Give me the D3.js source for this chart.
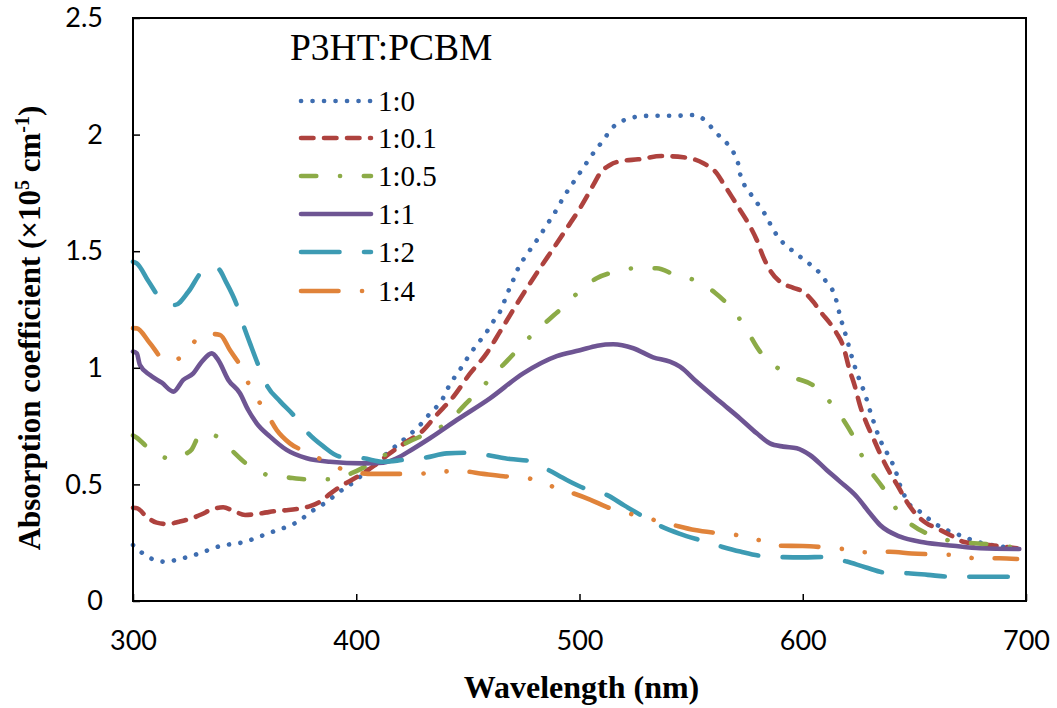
<!DOCTYPE html>
<html>
<head>
<meta charset="utf-8">
<script src="https://cdn.jsdelivr.net/npm/d3@7"></script>
<style>
  body { margin: 0; background: #fff; }
  .tick text { font-family: Lato, "Open Sans", sans-serif; font-size: 27px; fill: #000; }
  .title { font-family: "Liberation Serif", "Times New Roman", serif; font-weight: bold; }
  .legend text { font-family: "Liberation Serif", "Times New Roman", serif; fill: #000; }
</style>
</head>
<body>
<svg width="1057" height="708"></svg>
<script>
// wavelength (nm) / absorption coefficient (x10^5 cm^-1)
var wl_10 = [300, 305, 310, 315, 320, 325, 330, 335, 340, 345, 350, 355, 360, 365, 370, 375, 379, 384, 388, 392, 397, 401, 405, 410, 414, 417, 421, 425, 429, 432, 436, 439, 441, 444, 447, 450, 453, 456, 459, 462, 465, 467, 469, 471, 473, 476, 479, 482, 485, 488, 490.5, 493, 496, 499, 502, 505, 508.4, 511, 514, 518.5, 523.4, 529, 534, 539, 544, 550, 554.7, 558.5, 562, 566, 569, 571, 572, 574, 577, 580, 583, 585.6, 588.3, 591.7, 596, 600, 604, 608, 611, 614, 615.5, 616.7, 618.2, 619.7, 622.5, 626, 628, 629.4, 631, 632.7, 634.5, 637, 639.4, 641.6, 643, 645, 647, 651.6, 655.5, 659.7, 664.5, 669.4, 674.3, 679, 688, 696];
var abs_10 = [0.24, 0.20, 0.175, 0.168, 0.178, 0.19, 0.205, 0.223, 0.238, 0.245, 0.253, 0.27, 0.288, 0.305, 0.322, 0.347, 0.378, 0.408, 0.434, 0.465, 0.497, 0.527, 0.56, 0.6, 0.635, 0.659, 0.69, 0.722, 0.759, 0.793, 0.833, 0.872, 0.912, 0.959, 1.0, 1.045, 1.086, 1.123, 1.162, 1.208, 1.252, 1.302, 1.348, 1.391, 1.437, 1.479, 1.522, 1.562, 1.608, 1.651, 1.691, 1.734, 1.777, 1.82, 1.862, 1.905, 1.948, 1.98, 2.022, 2.055, 2.072, 2.08, 2.081, 2.081, 2.081, 2.084, 2.072, 2.037, 2.0, 1.963, 1.923, 1.878, 1.829, 1.781, 1.741, 1.701, 1.66, 1.614, 1.57, 1.531, 1.498, 1.467, 1.438, 1.402, 1.362, 1.319, 1.272, 1.222, 1.174, 1.126, 1.03, 0.933, 0.885, 0.838, 0.791, 0.741, 0.694, 0.648, 0.605, 0.559, 0.512, 0.465, 0.423, 0.39, 0.359, 0.329, 0.304, 0.286, 0.267, 0.252, 0.235, 0.225];

var wl_101 = [300, 302, 306, 310.6, 315.5, 320.7, 325.5, 330.8, 335.3, 340.4, 344.9, 350.2, 354.6, 359.9, 364.4, 369.6, 374.8, 379.3, 383.8, 388.2, 392.7, 397.2, 401.7, 408, 415, 422.6, 429.3, 436, 443.5, 451, 458.4, 464.4, 470.3, 476.4, 482.3, 488.3, 494.3, 500.2, 506.2, 509.2, 513.7, 518.9, 526.3, 536.8, 546.5, 555.5, 561.5, 564.4, 568.2, 571.9, 575.6, 579.4, 582.3, 585.3, 589.8, 595.8, 600.3, 604.7, 608.5, 612.2, 615.2, 618.2, 620.7, 623.4, 625.6, 628.6, 631.6, 634.6, 638.3, 642.8, 646.6, 651, 655.5, 660, 666, 671.9, 679.4, 688, 696];
var abs_101 = [0.40, 0.397, 0.362, 0.336, 0.33, 0.34, 0.352, 0.372, 0.393, 0.402, 0.387, 0.369, 0.372, 0.38, 0.386, 0.39, 0.397, 0.407, 0.426, 0.459, 0.49, 0.515, 0.54, 0.58, 0.633, 0.683, 0.726, 0.798, 0.876, 0.976, 1.062, 1.155, 1.248, 1.341, 1.427, 1.512, 1.598, 1.684, 1.784, 1.834, 1.87, 1.887, 1.894, 1.908, 1.903, 1.877, 1.834, 1.791, 1.734, 1.677, 1.62, 1.548, 1.476, 1.419, 1.369, 1.343, 1.326, 1.283, 1.234, 1.191, 1.148, 1.091, 1.0, 0.919, 0.84, 0.762, 0.698, 0.633, 0.562, 0.49, 0.426, 0.369, 0.333, 0.312, 0.283, 0.254, 0.244, 0.235, 0.226];

var wl_105 = [300, 301.7, 307.6, 312, 317, 322, 326.3, 330, 333, 336.8, 340, 344.9, 350.2, 355, 359.4, 364, 368.8, 377.8, 387.7, 397.9, 403.2, 410, 417, 424, 431, 438.6, 444, 449, 454, 458.7, 463.5, 468.4, 473.5, 478.4, 483.5, 488.6, 492, 499.5, 507.7, 515.1, 525.2, 534.6, 542.8, 552.5, 560.7, 566.7, 573.3, 580.9, 586, 591.3, 597, 604.5, 609, 614.2, 618, 621.9, 628, 636.1, 643.9, 649, 655.5, 662, 668.6, 682.4, 696];
var abs_105 = [0.71, 0.70, 0.65, 0.625, 0.608, 0.625, 0.65, 0.712, 0.715, 0.709, 0.685, 0.64, 0.593, 0.565, 0.543, 0.535, 0.53, 0.522, 0.522, 0.548, 0.572, 0.61, 0.65, 0.685, 0.715, 0.75, 0.795, 0.845, 0.893, 0.94, 0.99, 1.038, 1.09, 1.138, 1.183, 1.226, 1.255, 1.324, 1.384, 1.41, 1.427, 1.427, 1.398, 1.372, 1.322, 1.269, 1.188, 1.069, 1.02, 0.983, 0.955, 0.926, 0.885, 0.831, 0.78, 0.719, 0.593, 0.483, 0.369, 0.325, 0.29, 0.268, 0.254, 0.244, 0.228];

var wl_11 = [300, 301.7, 303.1, 307.6, 312.9, 318.1, 322.5, 327, 330.8, 335.3, 338.2, 342.7, 347.9, 351.6, 355.4, 361.4, 368.8, 377.8, 388.2, 403.2, 412.1, 418.1, 425, 433, 445, 459.9, 474.8, 489.8, 500.2, 508, 515.1, 524.1, 533, 540.5, 545, 552.5, 562.9, 571.9, 579.4, 585.3, 591.3, 597.3, 603.2, 610.7, 616.7, 624.2, 630.1, 634.6, 643.6, 654, 667.4, 679.4, 697];
var abs_11 = [1.07, 1.062, 1.012, 0.969, 0.936, 0.898, 0.948, 0.976, 1.026, 1.062, 1.033, 0.948, 0.891, 0.819, 0.762, 0.705, 0.648, 0.612, 0.597, 0.59, 0.593, 0.612, 0.65, 0.698, 0.776, 0.869, 0.976, 1.05, 1.075, 1.095, 1.101, 1.084, 1.045, 1.026, 1.005, 0.94, 0.855, 0.783, 0.719, 0.676, 0.662, 0.655, 0.626, 0.562, 0.512, 0.447, 0.376, 0.326, 0.276, 0.252, 0.237, 0.226, 0.223];

var wl_12 = [300, 301.7, 307, 312.9, 318.8, 324.8, 330.8, 334, 337.8, 342, 346.5, 349.4, 353, 356.1, 359.9, 366, 371.8, 378.5, 385, 392.7, 403.2, 412.1, 421.1, 431, 440.5, 449.5, 458.4, 468.9, 477.8, 486, 494.3, 503.2, 512.2, 520, 528.6, 536.8, 545, 554.7, 563.7, 572, 581.6, 591.3, 600, 610.5, 619.7, 628, 637.6, 647.3, 656, 666, 675.7, 695];
var abs_12 = [1.455, 1.448, 1.37, 1.291, 1.269, 1.326, 1.412, 1.43, 1.427, 1.362, 1.269, 1.184, 1.09, 1.012, 0.926, 0.855, 0.798, 0.719, 0.665, 0.619, 0.612, 0.597, 0.605, 0.615, 0.633, 0.636, 0.626, 0.609, 0.6, 0.562, 0.519, 0.479, 0.455, 0.41, 0.362, 0.319, 0.288, 0.259, 0.233, 0.212, 0.193, 0.188, 0.187, 0.189, 0.169, 0.145, 0.121, 0.119, 0.112, 0.104, 0.104, 0.104];

var wl_14 = [300, 301.7, 307.6, 314.3, 318, 323, 330, 335, 339, 343.4, 348.7, 353.2, 359.1, 364.4, 370.3, 379.3, 388.2, 397.9, 407.6, 417, 427.1, 436.8, 446.9, 456.9, 466, 475.6, 485, 495, 504.7, 513, 521.9, 531.6, 542, 551.7, 561, 570.4, 580.1, 589.8, 600, 610, 618.9, 628.6, 639, 648.8, 658.5, 668.2, 677.9, 688.1, 696];
var abs_14 = [1.17, 1.169, 1.105, 1.033, 1.03, 1.059, 1.134, 1.145, 1.141, 1.076, 0.998, 0.902, 0.819, 0.733, 0.676, 0.633, 0.587, 0.554, 0.545, 0.545, 0.545, 0.554, 0.557, 0.545, 0.535, 0.529, 0.5, 0.469, 0.435, 0.4, 0.376, 0.352, 0.326, 0.304, 0.292, 0.283, 0.262, 0.237, 0.236, 0.23, 0.222, 0.209, 0.211, 0.204, 0.2, 0.197, 0.183, 0.183, 0.18];

var seriesNames = ["1:0", "1:0.1", "1:0.5", "1:1", "1:2", "1:4"];
var seriesWl = [wl_10, wl_101, wl_105, wl_11, wl_12, wl_14];
var seriesAbs = [abs_10, abs_101, abs_105, abs_11, abs_12, abs_14];
var seriesColors = ["#3e6db0", "#ae423e", "#8cab47", "#6e5593", "#3d9bb3", "#e0833a"];
var seriesDash = ["0.1,11.4", "12.5,10.5", "15.3,23.7,0.1,23.7", null, "38.5,24.5", "37.5,23.5,0.1,23,0.1,23"];

var xTicks = [300, 400, 500, 600, 700];
var yTicks = [0, 0.5, 1, 1.5, 2, 2.5];

var svg = d3.select("svg");
var margin = { top: 18, right: 31, bottom: 107, left: 133 };
var width = +svg.attr("width") - margin.left - margin.right;
var height = +svg.attr("height") - margin.top - margin.bottom;

var x = d3.scaleLinear().domain([300, 700]).range([0, width]);
var y = d3.scaleLinear().domain([0, 2.5]).range([height, 0]);

var g = svg.append("g")
  .attr("transform", "translate(" + margin.left + "," + margin.top + ")");

// curves
var line = d3.line()
  .x(function(d) { return x(d[0]); })
  .y(function(d) { return y(d[1]); })
  .curve(d3.curveMonotoneX);

seriesNames.forEach(function(name, i) {
  var pts = seriesWl[i].map(function(w, j) { return [w, seriesAbs[i][j]]; });
  g.append("path")
    .datum(pts)
    .attr("fill", "none")
    .attr("stroke", seriesColors[i])
    .attr("stroke-width", 4.6)
    .attr("stroke-linecap", "round")
    .attr("stroke-linejoin", "round")
    .attr("stroke-dasharray", seriesDash[i])
    .attr("d", line);
});

// frame
g.append("rect")
  .attr("width", width)
  .attr("height", height)
  .attr("fill", "none")
  .attr("stroke", "#000")
  .attr("stroke-width", 2);

// axes, ticks pointing inward
g.append("g")
  .attr("transform", "translate(0," + height + ")")
  .call(d3.axisBottom(x).tickValues(xTicks).tickSize(-7).tickPadding(30).tickFormat(d3.format("d")))
  .call(function(a) { a.select(".domain").remove(); a.selectAll("line").attr("stroke-width", 1.5); });

g.append("g")
  .call(d3.axisLeft(y).tickValues(yTicks).tickSize(-7).tickPadding(30).tickFormat(function(d) { return String(d); }))
  .call(function(a) { a.select(".domain").remove(); a.selectAll("line").attr("stroke-width", 1.5); });

// axis titles
svg.append("text")
  .attr("class", "title")
  .attr("x", margin.left + width / 2 + 2)
  .attr("y", 698)
  .attr("text-anchor", "middle")
  .style("font-size", "32px")
  .text("Wavelength (nm)");

var yt = svg.append("text")
  .attr("class", "title")
  .attr("transform", "translate(40,328) rotate(-90)")
  .attr("text-anchor", "middle")
  .style("font-size", "31px");
yt.append("tspan").text("Absorption coefficient (×10");
yt.append("tspan").attr("dy", -11).style("font-size", "20px").text("5");
yt.append("tspan").attr("dy", 11).text(" cm");
yt.append("tspan").attr("dy", -11).style("font-size", "20px").text("-1");
yt.append("tspan").attr("dy", 11).text(")");

// legend
var legend = svg.append("g").attr("class", "legend");
legend.append("text")
  .attr("x", 290)
  .attr("y", 60)
  .style("font-size", "37.5px")
  .text("P3HT:PCBM");

var rowY = [101, 138, 176, 214, 252, 291];
seriesNames.forEach(function(name, i) {
  legend.append("line")
    .attr("x1", 301).attr("x2", 371)
    .attr("y1", rowY[i]).attr("y2", rowY[i])
    .attr("stroke", seriesColors[i])
    .attr("stroke-width", 4.6)
    .attr("stroke-linecap", "round")
    .attr("stroke-dasharray", seriesDash[i]);
  legend.append("text")
    .attr("x", 378)
    .attr("y", rowY[i] + 10)
    .style("font-size", "29px")
    .text(name);
});
</script>
</body>
</html>
